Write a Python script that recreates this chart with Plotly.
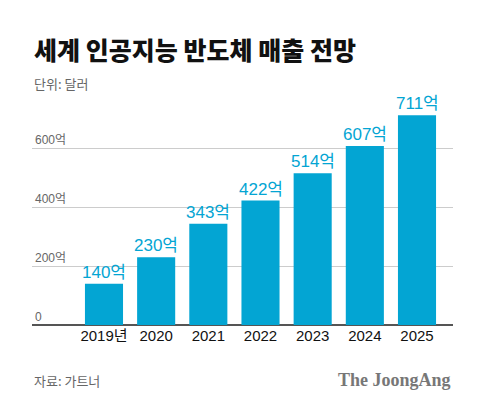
import plotly.graph_objects as go

years = ["2019년", "2020", "2021", "2022", "2023", "2024", "2025"]
sales = [140, 230, 343, 422, 514, 607, 711]
labels = ["140억", "230억", "343억", "422억", "514억", "607억", "711억"]
ytick_vals = [0, 200, 400, 600]
ytick_text = ["0", "200억", "400억", "600억"]

BLUE = "#03A5D3"
KFONT = "Noto Sans CJK KR"
AFONT = "Liberation Sans, Arial, Noto Sans CJK KR"

fig = go.Figure()
fig.add_trace(go.Bar(
    x=years, y=sales, marker_color=BLUE, marker_line_width=0,
    hoverinfo="skip",
))

ann = []
for i, (v, lab) in enumerate(zip(sales, labels)):
    ann.append(dict(x=i, xref="x", y=v, yref="y", text=lab, showarrow=False,
                    yanchor="bottom", yshift=0,
                    font=dict(size=17, color=BLUE, family=AFONT)))

plot_top, plot_bottom = 89, 325
def py(p):
    return (plot_bottom - p) / (plot_bottom - plot_top)

ann += [
    dict(text="세계 인공지능 반도체 매출 전망", x=0, xref="paper", xanchor="left",
         y=py(49), yref="paper", yanchor="middle", showarrow=False,
         font=dict(size=25, color="#111111", family=KFONT, weight=900)),
    dict(text="단위: 달러", x=0, xref="paper", xanchor="left",
         y=py(83), yref="paper", showarrow=False, yanchor="middle",
         font=dict(size=13, color="#666666", family=KFONT)),
    dict(text="자료: 가트너", x=0, xref="paper", xanchor="left",
         y=py(380), yref="paper", showarrow=False, yanchor="middle",
         font=dict(size=13, color="#666666", family=KFONT)),
    dict(text="<b>The JoongAng</b>", x=1, xref="paper", xanchor="right",
         y=py(380), yref="paper", showarrow=False, yanchor="middle",
         font=dict(size=18, color="#777777", family="Liberation Serif")),
]

fig.update_layout(
    width=480, height=410,
    margin=dict(l=32, r=27, t=89, b=85),
    paper_bgcolor="white", plot_bgcolor="white",
    bargap=0.27, showlegend=False,
    font=dict(family=KFONT),
    xaxis=dict(type="category", range=[-1.38, 6.69], showgrid=False, showline=False,
               zeroline=False, ticks="",
               tickfont=dict(size=15, color="#111", family=AFONT)),
    yaxis=dict(range=[0, 800], tickvals=ytick_vals, ticktext=ytick_text,
               ticklabelposition="inside top", showgrid=True, gridcolor="#cccccc",
               gridwidth=1, zeroline=True, zerolinecolor="#555555", zerolinewidth=1.5,
               showline=False, ticks="",
               tickfont=dict(size=12, color="#666666", family=AFONT)),
    annotations=ann,
)

fig.write_html("out.html", config={"displayModeBar": False},
               post_script="document.body.style.margin='0';")
